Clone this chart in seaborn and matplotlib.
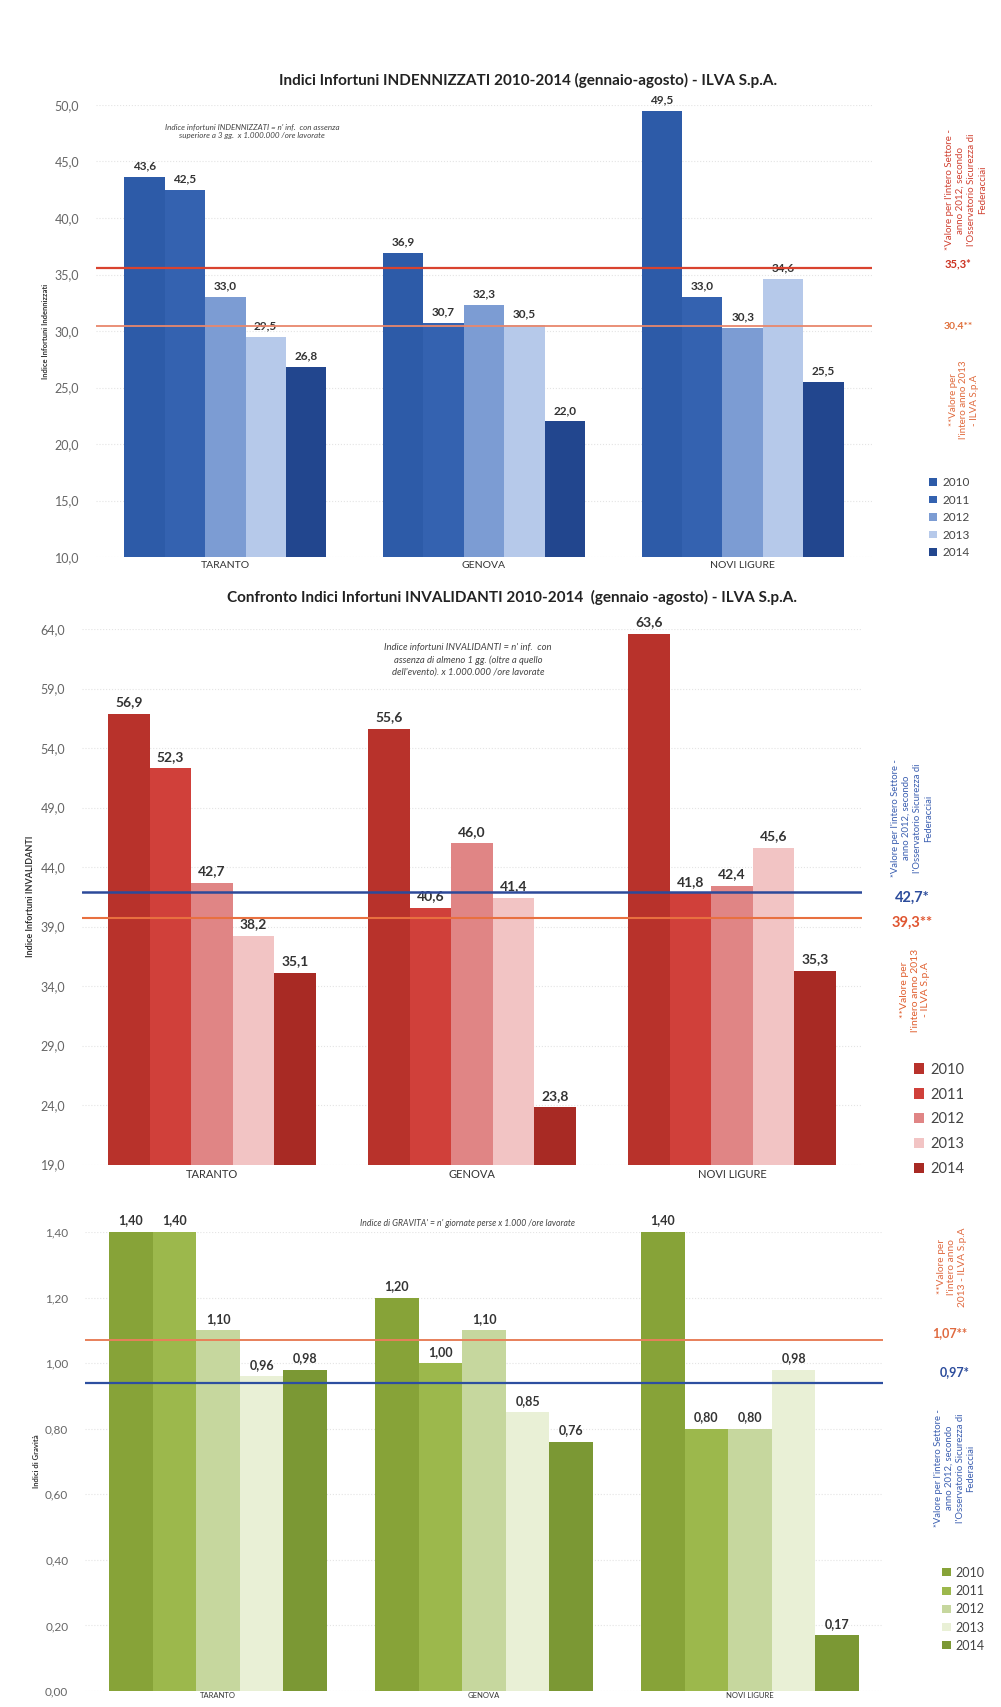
import pandas as pd
import matplotlib
matplotlib.use('Agg')
import matplotlib.pyplot as plt
from matplotlib.ticker import FuncFormatter
import seaborn as sns

# ---- data ----
sites = ['TARANTO', 'GENOVA', 'NOVI LIGURE']
years = ['2010', '2011', '2012', '2013', '2014']

indennizzati = {
    'TARANTO': [43.6, 42.5, 33.0, 29.5, 26.8],
    'GENOVA': [36.9, 30.7, 32.3, 30.5, 22.0],
    'NOVI LIGURE': [49.5, 33.0, 30.3, 34.6, 25.5],
}
invalidanti = {
    'TARANTO': [56.9, 52.3, 42.7, 38.2, 35.1],
    'GENOVA': [55.6, 40.6, 46.0, 41.4, 23.8],
    'NOVI LIGURE': [63.6, 41.8, 42.4, 45.6, 35.3],
}
gravita = {
    'TARANTO': [1.40, 1.40, 1.10, 0.96, 0.98],
    'GENOVA': [1.20, 1.00, 1.10, 0.85, 0.76],
    'NOVI LIGURE': [1.40, 0.80, 0.80, 0.98, 0.17],
}

# reference lines: position as drawn in the picture, and the printed label
ref1_pos = [35.6, 30.4]
ref1_lab = ['35,3*', '30,4**']
ref2_pos = [41.9, 39.7]
ref2_lab = ['42,7*', '39,3**']
ref3_pos = [1.07, 0.94]
ref3_lab = ['1,07**', '0,97*']

blues = ['#2d5ba8', '#3462b0', '#7c9cd3', '#b6c9ea', '#22468e']
reds = ['#b8322b', '#d0403a', '#e08585', '#f2c4c4', '#a82a24']
greens = ['#87a338', '#9cb84c', '#c6d79e', '#e9f0d6', '#7b9834']

W, H = 1001, 1707

sns.set_style('whitegrid', {'grid.color': '#e4e4e4', 'grid.linestyle': ':',
                            'axes.edgecolor': 'white'})
plt.rcParams['font.family'] = ['Lato', 'DejaVu Sans']


def to_long(d):
    rows = []
    for s in sites:
        for y, v in zip(years, d[s]):
            rows.append({'site': s, 'year': y, 'value': v})
    return pd.DataFrame(rows)


def fx(px):
    return px / W


def fy(py):
    return 1 - py / H


def comma(fmt):
    return lambda v, pos=None: format(v, fmt).replace('.', ',')


def draw_panel(ax, data, palette, width, ylim, yticks, fmt, lab_fmt, lab_size,
               tick_size, xtick_size, ylabel, ylabel_size):
    df = to_long(data)
    sns.barplot(data=df, x='site', y='value', hue='year', palette=palette,
                width=width, saturation=1, ax=ax, edgecolor='none')
    ax.set_ylim(*ylim)
    ax.set_yticks(yticks)
    ax.yaxis.set_major_formatter(FuncFormatter(comma(fmt)))
    ax.tick_params(axis='y', labelsize=tick_size, colors='#666666', length=0, pad=12)
    ax.tick_params(axis='x', labelsize=xtick_size, colors='#333333', length=0, pad=3)
    ax.grid(axis='x', visible=False)
    ax.set_xlabel('')
    ax.set_ylabel(ylabel, fontsize=ylabel_size, fontweight='bold', color='#333333')
    for c in ax.containers:
        ax.bar_label(c, labels=[comma(lab_fmt)(b.get_height()) for b in c],
                     padding=4, fontsize=lab_size, fontweight='bold', color='#333333')
    for sp in ax.spines.values():
        sp.set_visible(False)


fig = plt.figure(figsize=(W / 100, H / 100), dpi=100)

# ---------------- panel 1 ----------------
ax1 = fig.add_axes([fx(96), fy(557), fx(776), (557 - 105) / H])
draw_panel(ax1, indennizzati, blues, 0.78, (10, 50), [10, 15, 20, 25, 30, 35, 40, 45, 50],
           '.1f', '.1f', 8.5, 9, 7.5, 'Indice Infortuni Indennizzati', 5.5)
ax1.axhline(ref1_pos[0], color='#d9432f', lw=1.6, zorder=5)
ax1.axhline(ref1_pos[1], color='#e8876c', lw=1.3, zorder=5)
sns.move_legend(ax1, 'upper left', bbox_to_anchor=(1.06, 0.2), frameon=False, title=None,
                fontsize=8.5, handlelength=0.7, handleheight=0.6, labelspacing=0.55,
                handletextpad=0.4, labelcolor='#444444')
fig.text(fx(528), fy(80), 'Indici Infortuni INDENNIZZATI 2010-2014 (gennaio-agosto) - ILVA S.p.A.',
         ha='center', va='center', fontsize=11, fontweight='bold', color='#222222')
fig.text(fx(252), fy(131), "Indice infortuni INDENNIZZATI = n' inf.  con assenza\nsuperiore a 3 gg.  x 1.000.000 /ore lavorate",
         ha='center', va='center', fontsize=5.8, style='italic', color='#444444', linespacing=1.4)
fig.text(fx(958), fy(264), ref1_lab[0], ha='center', va='center', fontsize=8,
         fontweight='bold', color='#cc3322')
fig.text(fx(958), fy(326), ref1_lab[1], ha='center', va='center', fontsize=7.5,
         fontweight='bold', color='#e0703c')
fig.text(fx(966), fy(190), "*Valore per l'intero Settore -\nanno 2012, secondo\nl'Osservatorio Sicurezza di\nFederacciai",
         ha='center', va='center', rotation=90, fontsize=7, color='#d04030',
         multialignment='center', linespacing=1.25)
fig.text(fx(964), fy(400), "**Valore per\nl'intero anno 2013\n- ILVA S.p.A",
         ha='center', va='center', rotation=90, fontsize=7, color='#e06a3c',
         multialignment='center', linespacing=1.25)

# ---------------- panel 2 ----------------
ax2 = fig.add_axes([fx(82), fy(1164.6), fx(780), (1164.6 - 629) / H])
draw_panel(ax2, invalidanti, reds, 0.8, (19, 64), [19, 24, 29, 34, 39, 44, 49, 54, 59, 64],
           '.1f', '.1f', 10, 9, 8, 'Indice Infortuni INVALIDANTI', 6.5)
ax2.axhline(ref2_pos[0], color='#2d4a9a', lw=1.8, zorder=5)
ax2.axhline(ref2_pos[1], color='#e8703f', lw=1.5, zorder=5)
sns.move_legend(ax2, 'upper left', bbox_to_anchor=(1.05, 0.215), frameon=False, title=None,
                fontsize=10.5, handlelength=0.7, handleheight=0.7, labelspacing=0.75,
                handletextpad=0.4, labelcolor='#444444')
fig.text(fx(512), fy(597), 'Confronto Indici Infortuni INVALIDANTI 2010-2014  (gennaio -agosto) - ILVA S.p.A.',
         ha='center', va='center', fontsize=11, fontweight='bold', color='#222222')
fig.text(fx(468), fy(660), "Indice infortuni INVALIDANTI = n' inf.  con\nassenza di almeno 1 gg. (oltre a quello\ndell'evento). x 1.000.000 /ore lavorate",
         ha='center', va='center', fontsize=6.8, style='italic', color='#444444', linespacing=1.45)
fig.text(fx(912), fy(898), ref2_lab[0], ha='center', va='center', fontsize=10.5,
         fontweight='bold', color='#2c4c9c')
fig.text(fx(912), fy(923), ref2_lab[1], ha='center', va='center', fontsize=10.5,
         fontweight='bold', color='#e05530')
fig.text(fx(912), fy(818), "*Valore per l'intero Settore -\nanno 2012, secondo\nl'Osservatorio Sicurezza di\nFederacciai",
         ha='center', va='center', rotation=90, fontsize=6.8, color='#3a5eb0',
         multialignment='center', linespacing=1.25)
fig.text(fx(915), fy(990), "**Valore per\nl'intero anno 2013\n- ILVA S.p.A",
         ha='center', va='center', rotation=90, fontsize=7.5, color='#e06030',
         multialignment='center', linespacing=1.25)

# ---------------- panel 3 ----------------
ax3 = fig.add_axes([fx(85), fy(1691), fx(798), (1691 - 1232) / H])
draw_panel(ax3, gravita, greens, 0.82, (0, 1.4), [0, 0.2, 0.4, 0.6, 0.8, 1.0, 1.2, 1.4],
           '.2f', '.2f', 9, 8.5, 5.5, 'Indici di Gravità', 5.5)
ax3.tick_params(axis='x', pad=1)
ax3.axhline(ref3_pos[0], color='#e8805a', lw=1.4, zorder=5)
ax3.axhline(ref3_pos[1], color='#2d4fa0', lw=1.6, zorder=5)
sns.move_legend(ax3, 'upper left', bbox_to_anchor=(1.06, 0.295), frameon=False, title=None,
                fontsize=9, handlelength=0.7, handleheight=0.6, labelspacing=0.5,
                handletextpad=0.4, labelcolor='#444444')
fig.text(fx(468), fy(1224), "Indice di GRAVITA' = n' giornate perse x 1.000 /ore lavorate",
         ha='center', va='center', fontsize=6.2, style='italic', color='#444444')
fig.text(fx(950), fy(1333), ref3_lab[0], ha='center', va='center', fontsize=9,
         fontweight='bold', color='#e06a40')
fig.text(fx(955), fy(1372), ref3_lab[1], ha='center', va='center', fontsize=9,
         fontweight='bold', color='#2c4c9c')
fig.text(fx(952), fy(1267), "**Valore per\nl'intero anno\n2013 - ILVA S.p.A",
         ha='center', va='center', rotation=90, fontsize=7.3, color='#e06a40',
         multialignment='center', linespacing=1.25)
fig.text(fx(955), fy(1468), "*Valore per l'intero Settore -\nanno 2012, secondo\nl'Osservatorio Sicurezza di\nFederacciai",
         ha='center', va='center', rotation=90, fontsize=6.8, color='#3a5eb0',
         multialignment='center', linespacing=1.25)

fig.savefig('out.png', dpi=100, facecolor='white')
